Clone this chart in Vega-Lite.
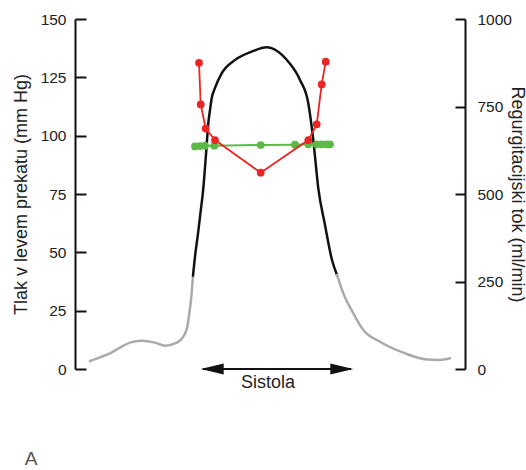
{
  "$schema": "https://vega.github.io/schema/vega-lite/v6.json",
  "width": 390,
  "height": 350,
  "autosize": {"type": "none"},
  "padding": {"left": 75, "top": 19, "right": 61, "bottom": 101},
  "config": {
    "view": {"stroke": null},
    "font": "Liberation Sans",
    "axis": {"grid": false}
  },
  "datasets": {
    "pressure": [
      {"t": 15, "v": 3.4, "seg": "gl"}, {"t": 25, "v": 5, "seg": "gl"}, {"t": 35, "v": 6.7, "seg": "gl"},
      {"t": 45, "v": 9.2, "seg": "gl"}, {"t": 55, "v": 11.3, "seg": "gl"}, {"t": 66.7, "v": 12.1, "seg": "gl"},
      {"t": 80, "v": 11.3, "seg": "gl"}, {"t": 90, "v": 10, "seg": "gl"}, {"t": 101.7, "v": 11.3, "seg": "gl"},
      {"t": 108.3, "v": 13.9, "seg": "gl"}, {"t": 112.3, "v": 18.1, "seg": "gl"}, {"t": 114.3, "v": 23.9, "seg": "gl"},
      {"t": 116, "v": 29.6, "seg": "gl"}, {"t": 118, "v": 40, "seg": "gl"},
      {"t": 118, "v": 40, "seg": "b"}, {"t": 120.5, "v": 50, "seg": "b"}, {"t": 123, "v": 58, "seg": "b"},
      {"t": 125.5, "v": 67, "seg": "b"}, {"t": 128.3, "v": 77.4, "seg": "b"}, {"t": 131, "v": 92, "seg": "b"},
      {"t": 133.3, "v": 105.3, "seg": "b"}, {"t": 135, "v": 111, "seg": "b"}, {"t": 136.7, "v": 116, "seg": "b"},
      {"t": 140, "v": 120.5, "seg": "b"}, {"t": 146.7, "v": 126.7, "seg": "b"}, {"t": 160, "v": 132.4, "seg": "b"},
      {"t": 176.7, "v": 136, "seg": "b"}, {"t": 191.7, "v": 137.9, "seg": "b"}, {"t": 201.7, "v": 136.4, "seg": "b"},
      {"t": 213.3, "v": 131.7, "seg": "b"}, {"t": 225, "v": 123.9, "seg": "b"}, {"t": 233.3, "v": 113.9, "seg": "b"},
      {"t": 238.3, "v": 98.1, "seg": "b"}, {"t": 243.3, "v": 77.4, "seg": "b"}, {"t": 250, "v": 61.7, "seg": "b"},
      {"t": 257, "v": 46.7, "seg": "b"}, {"t": 262, "v": 40.3, "seg": "b"},
      {"t": 262, "v": 40.3, "seg": "gr"}, {"t": 268.3, "v": 32.4, "seg": "gr"}, {"t": 278.3, "v": 23.9, "seg": "gr"},
      {"t": 288.3, "v": 16.7, "seg": "gr"}, {"t": 305, "v": 11.7, "seg": "gr"}, {"t": 328.3, "v": 7, "seg": "gr"},
      {"t": 351.7, "v": 4.1, "seg": "gr"}, {"t": 365, "v": 3.9, "seg": "gr"}, {"t": 375, "v": 4.6, "seg": "gr"}
    ],
    "arrowline": [{"t": 128, "t2": 276, "v": 0}],
    "heads": [{"t": 125.7, "v": 0, "dir": "L"}, {"t": 278.3, "v": 0, "dir": "R"}],
    "labels": [
      {"t": 193, "v": -6, "txt": "Sistola"}
    ],
    "panel": [{"t": -44, "v": -38.5, "txt": "A"}],
    "red": [
      {"t": 124, "f": 875}, {"t": 125.7, "f": 756}, {"t": 130.7, "f": 687}, {"t": 140, "f": 654},
      {"t": 185.7, "f": 561}, {"t": 233.3, "f": 654}, {"t": 241.7, "f": 699}, {"t": 246.7, "f": 813},
      {"t": 250.7, "f": 878}
    ],
    "green": [
      {"t": 120, "f": 636}, {"t": 125, "f": 637}, {"t": 130, "f": 638}, {"t": 139.3, "f": 638},
      {"t": 185.7, "f": 640}, {"t": 220, "f": 641}, {"t": 233.3, "f": 642}, {"t": 241.7, "f": 642},
      {"t": 246.7, "f": 642}, {"t": 251.7, "f": 642}, {"t": 255, "f": 642}
    ]
  },
  "layer": [
    {
      "layer": [
        {
          "data": {"name": "pressure"},
          "mark": {"type": "line", "interpolate": "monotone", "strokeWidth": 2.5, "strokeCap": "round"},
          "encoding": {
            "x": {"field": "t", "type": "quantitative", "scale": {"domain": [0, 390], "nice": false, "zero": false}, "axis": null},
            "y": {
              "field": "v", "type": "quantitative",
              "scale": {"domain": [0, 150], "nice": false},
              "axis": {
                "orient": "left",
                "values": [0, 25, 50, 75, 100, 125, 150],
                "title": "Tlak v levem prekatu (mm Hg)",
                "titleFontSize": 18, "titleFontWeight": "normal", "titleColor": "#222",
                "titleX": -49, "titleY": 175, "titleAngle": -90, "titleAlign": "center", "titleBaseline": "alphabetic",
                "labelFontSize": 15.5, "labelColor": "#222", "labelPadding": 20,
                "domainColor": "#111", "domainWidth": 2,
                "tickColor": "#111", "tickWidth": 2, "tickSize": -11
              }
            },
            "color": {
              "field": "seg", "type": "nominal",
              "scale": {"domain": ["gl", "b", "gr"], "range": ["#aaaaaa", "#111111", "#aaaaaa"]},
              "legend": null
            },
            "detail": {"field": "seg"}
          }
        },
        {
          "data": {"name": "arrowline"},
          "mark": {"type": "rule", "strokeWidth": 2, "color": "#111"},
          "encoding": {
            "x": {"field": "t", "type": "quantitative"},
            "x2": {"field": "t2"},
            "y": {"field": "v", "type": "quantitative"}
          }
        },
        {
          "data": {"name": "heads"},
          "mark": {"type": "point", "filled": true, "opacity": 1, "color": "#111", "size": 529},
          "encoding": {
            "x": {"field": "t", "type": "quantitative"},
            "y": {"field": "v", "type": "quantitative"},
            "shape": {
              "field": "dir", "type": "nominal",
              "scale": {"domain": ["L", "R"], "range": ["M 0 0 L 2 -0.48 L 2 0.48 Z", "M 0 0 L -2 -0.48 L -2 0.48 Z"]},
              "legend": null
            }
          }
        },
        {
          "data": {"name": "labels"},
          "mark": {"type": "text", "fontSize": 18, "color": "#222", "align": "center", "baseline": "middle"},
          "encoding": {
            "x": {"field": "t", "type": "quantitative"},
            "y": {"field": "v", "type": "quantitative"},
            "text": {"field": "txt"}
          }
        },
        {
          "data": {"name": "panel"},
          "mark": {"type": "text", "fontSize": 19, "font": "Liberation Sans", "color": "#555", "align": "center", "baseline": "middle"},
          "encoding": {
            "x": {"field": "t", "type": "quantitative"},
            "y": {"field": "v", "type": "quantitative"},
            "text": {"field": "txt"}
          }
        }
      ]
    },
    {
      "layer": [
        {
          "data": {"name": "green"},
          "mark": {"type": "line", "color": "#5cb946", "strokeWidth": 2},
          "encoding": {
            "x": {"field": "t", "type": "quantitative"},
            "y": {
              "field": "f", "type": "quantitative",
              "scale": {"domain": [0, 1000], "nice": false},
              "axis": {
                "orient": "right",
                "values": [0, 250, 500, 750, 1000],
                "format": "d",
                "title": "Regurgitacijski tok (ml/min)",
                "titleFontSize": 18, "titleFontWeight": "normal", "titleColor": "#222",
                "titleX": 46, "titleY": 175, "titleAngle": 90, "titleAlign": "center", "titleBaseline": "alphabetic",
                "labelFontSize": 15.5, "labelColor": "#222", "labelPadding": 22,
                "domainColor": "#111", "domainWidth": 2,
                "tickColor": "#111", "tickWidth": 2, "tickSize": -10
              }
            }
          }
        },
        {
          "data": {"name": "green"},
          "mark": {"type": "circle", "color": "#5cb946", "size": 60, "opacity": 1},
          "encoding": {
            "x": {"field": "t", "type": "quantitative"},
            "y": {"field": "f", "type": "quantitative"}
          }
        },
        {
          "data": {"name": "red"},
          "mark": {"type": "line", "color": "#ec2424", "strokeWidth": 1.8},
          "encoding": {
            "x": {"field": "t", "type": "quantitative"},
            "y": {"field": "f", "type": "quantitative"}
          }
        },
        {
          "data": {"name": "red"},
          "mark": {"type": "circle", "color": "#ec2424", "size": 60, "opacity": 1},
          "encoding": {
            "x": {"field": "t", "type": "quantitative"},
            "y": {"field": "f", "type": "quantitative"}
          }
        }
      ]
    }
  ],
  "resolve": {"scale": {"y": "independent"}, "axis": {"y": "independent"}}
}
